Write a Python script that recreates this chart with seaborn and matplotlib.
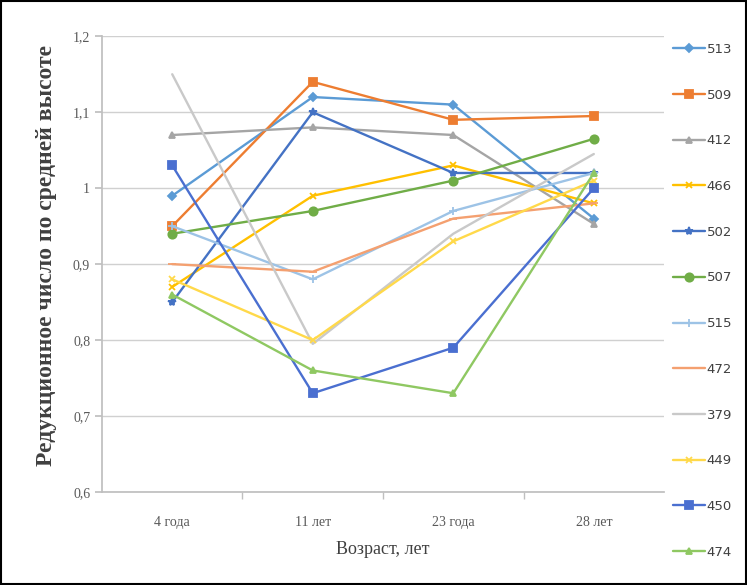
import matplotlib
matplotlib.use("Agg")
import matplotlib.pyplot as plt
from matplotlib.patches import Rectangle
from matplotlib.ticker import FuncFormatter, FixedLocator
import seaborn as sns
import pandas as pd

# Age classes
ages = ["4 года", "11 лет", "23 года", "28 лет"]

# Reduction number by mean height for each sample plot
s513 = [0.99, 1.12, 1.11, 0.96]
s509 = [0.95, 1.14, 1.09, 1.095]
s412 = [1.07, 1.08, 1.07, 0.953]
s466 = [0.87, 0.99, 1.03, 0.98]
s502 = [0.85, 1.10, 1.02, 1.02]
s507 = [0.94, 0.97, 1.01, 1.065]
s515 = [0.95, 0.88, 0.97, 1.02]
s472 = [0.90, 0.89, 0.96, 0.98]
s379 = [1.15, 0.795, 0.94, 1.045]
s449 = [0.88, 0.80, 0.93, 1.01]
s450 = [1.03, 0.73, 0.79, 1.00]
s474 = [0.86, 0.76, 0.73, 1.02]

series_names = ["513", "509", "412", "466", "502", "507",
                "515", "472", "379", "449", "450", "474"]
series_values = [s513, s509, s412, s466, s502, s507,
                 s515, s472, s379, s449, s450, s474]

colors = ["#5B9BD5", "#ED7D31", "#A5A5A5", "#FFC000", "#4472C4", "#70AD47",
          "#9DC3E6", "#F4A070", "#C9C9C9", "#FFD94A", "#4A6FD0", "#8FC862"]
marker_list = ["D", "s", "^", "x", "*", "o", "+", "_", None, "x", "s", "^"]
marker_sizes = [4, 6, 5, 5, 6, 6, 6, 6, 0, 5, 6, 5]

sns.set_theme(style="white")
plt.rcParams["font.family"] = ["Liberation Serif", "DejaVu Serif"]

fig = plt.figure(figsize=(7.47, 5.85), dpi=100)
ax = fig.add_axes([0.1365, 0.159, 0.7525, 0.779])

handles = []
for name, vals, c, m, ms in zip(series_names, series_values, colors,
                                 marker_list, marker_sizes):
    frame = pd.DataFrame({"Возраст": range(len(ages)), "Значение": vals})
    before = len(ax.get_lines())
    sns.lineplot(data=frame, x="Возраст", y="Значение", color=c,
                 marker=m, markersize=ms, markeredgecolor=c,
                 markerfacecolor=c, markeredgewidth=1.3, linewidth=1.7,
                 sort=False, ax=ax, label=name, legend=False)
    handles.append(ax.get_lines()[before])

ax.set_xlim(-0.5, 3.5)
ax.set_ylim(0.6, 1.2)
ax.set_xticks(range(len(ages)))
ax.set_xticklabels(ages)
ax.xaxis.set_minor_locator(FixedLocator([0.5, 1.5, 2.5]))
ax.set_yticks([0.6, 0.7, 0.8, 0.9, 1.0, 1.1, 1.2])
ax.yaxis.set_major_formatter(FuncFormatter(
    lambda v, p: ("%g" % round(v, 2)).replace(".", ",")))

ax.grid(axis="y", color="#D0D0D0", linewidth=1.0)
ax.set_axisbelow(True)
for side in ["top", "right"]:
    ax.spines[side].set_visible(False)
ax.spines["left"].set_color("#BFBFBF")
ax.spines["bottom"].set_color("#BFBFBF")
ax.tick_params(axis="y", which="major", length=5, color="#BFBFBF",
               labelsize=10, labelcolor="#595959", direction="out", left=True)
ax.tick_params(axis="x", which="major", length=0, labelsize=10,
               labelcolor="#595959", pad=17)
ax.tick_params(axis="x", which="minor", length=5, color="#BFBFBF",
               direction="out", bottom=True)

ax.set_xlabel("Возраст, лет", fontsize=13, color="#404040", labelpad=9)
ax.set_ylabel("Редукционное число по средней высоте", fontsize=17,
              color="#404040", fontweight="bold")
ax.yaxis.set_label_coords(-0.08, 0.52)

leg = fig.legend(handles, series_names, loc="upper left",
                 bbox_to_anchor=(0.885, 0.947), frameon=False,
                 labelspacing=2.48, handlelength=2.4, handletextpad=0.15,
                 prop={"family": ["Liberation Sans Narrow", "DejaVu Sans"],
                       "size": 9.5})
for t in leg.get_texts():
    t.set_color("#404040")

fig.patches.append(Rectangle((0.002, 0.002), 0.996, 0.996,
                             transform=fig.transFigure, fill=False,
                             edgecolor="black", linewidth=1.5))

fig.savefig("out.png", dpi=100)
